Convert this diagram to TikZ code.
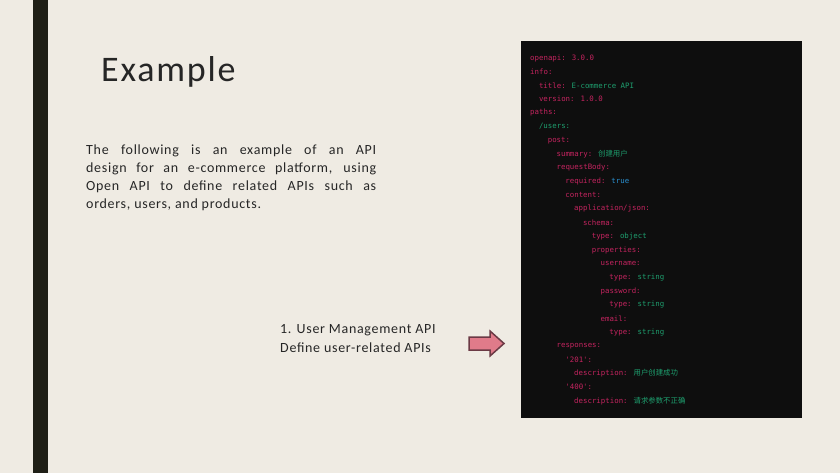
\documentclass[tikz,border=0pt]{standalone}
\usepackage{fontspec}
\setmainfont{Carlito}[LetterSpace=5]
\newfontfamily\codefont{DejaVu Sans Mono}
\newfontfamily\cjk{Noto Sans CJK SC}
\begin{document}
\definecolor{bg}{HTML}{EFEBE3}
\definecolor{bar}{HTML}{1F1F16}
\definecolor{codebg}{HTML}{0E0E0E}
\definecolor{ky}{HTML}{C4245F}
\definecolor{st}{HTML}{1E9E6E}
\definecolor{bl}{HTML}{2A90D0}
\definecolor{arrowfill}{HTML}{E07B8A}
\definecolor{arrowline}{HTML}{6B3A45}
\begin{tikzpicture}[x=1pt,y=-1pt,
  code/.style={anchor=west,inner sep=0pt,font=\codefont\fontsize{7.4}{8}\selectfont,text=ky},
  body/.style={anchor=north west,inner sep=0pt,font=\fontsize{14}{18}\selectfont,text=black!85}]
\useasboundingbox (0,0) rectangle (840,473);
\fill[bg] (0,0) rectangle (840,473);
\fill[bar] (33,0) rectangle (48,473);
\node[anchor=west,inner sep=0pt,font=\fontsize{36}{40}\selectfont,text=black!85] (title) at (101,72) {Example};
\node[body,text width=290pt,align=justify] (para) at (86,145) {The following is an example of an API\linebreak design for an e-commerce platform, using\linebreak Open API to define related APIs such as\linebreak orders, users, and products.};
\node[body,align=left,font=\fontsize{14}{19}\selectfont] (lbl) at (280,324) {1. User Management API\\Define user-related APIs};
\draw[fill=arrowfill,draw=arrowline,line width=1.5pt,line join=miter] (469,337) -- (490,337) -- (490,331) -- (504,343.5) -- (490,356) -- (490,350) -- (469,350) -- cycle;
\fill[codebg] (521,41) rectangle (802,418);
\def\L{13.72}
\foreach \i/\ind/\t in {
0/0/{openapi: 3.0.0},
1/0/{info:},
2/1/{title: \textcolor{st}{E-commerce API}},
3/1/{version: 1.0.0},
4/0/{paths:},
5/1/{\textcolor{st}{/users:}},
6/2/{post:},
7/3/{summary: \textcolor{st}{\cjk 创建用户}},
8/3/{requestBody:},
9/4/{required: \textcolor{bl}{true}},
10/4/{content:},
11/5/{application/json:},
12/6/{schema:},
13/7/{type: \textcolor{st}{object}},
14/7/{properties:},
15/8/{username:},
16/9/{type: \textcolor{st}{string}},
17/8/{password:},
18/9/{type: \textcolor{st}{string}},
19/8/{email:},
20/9/{type: \textcolor{st}{string}},
21/3/{responses:},
22/4/{'201':},
23/5/{description: \textcolor{st}{\cjk 用户创建成功}},
24/4/{'400':},
25/5/{description: \textcolor{st}{\cjk 请求参数不正确}}}
  \node[code] (c\i) at ({530+8.8*\ind},{58+\L*\i}) {\t};
\end{tikzpicture}
\end{document}
